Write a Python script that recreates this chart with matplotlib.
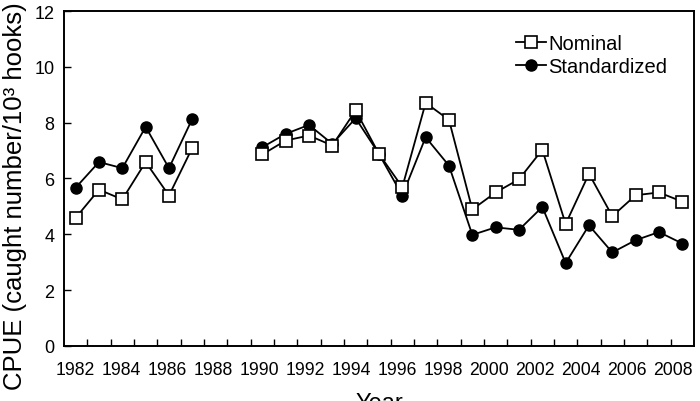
import numpy as np
import matplotlib
matplotlib.use("Agg")
import matplotlib.pyplot as plt
from matplotlib.ticker import MultipleLocator, FixedLocator, FixedFormatter

plt.rcParams["font.family"] = ["Liberation Sans", "DejaVu Sans"]

years = list(range(1982, 2009))
nan = np.nan
# 1988 and 1989 have no data (gap in the series)
nominal = [4.59, 5.60, 5.25, 6.59, 5.39, 7.10, nan, nan,
           6.86, 7.36, 7.54, 7.18, 8.44, 6.88, 5.69, 8.71, 8.10,
           4.89, 5.50, 5.97, 7.03, 4.37, 6.17, 4.65, 5.40, 5.50, 5.17]
standardized = [5.67, 6.59, 6.37, 7.85, 6.37, 8.14, nan, nan,
                7.12, 7.60, 7.92, 7.24, 8.16, 6.88, 5.39, 7.48, 6.46,
                3.98, 4.25, 4.16, 4.98, 2.97, 4.32, 3.35, 3.79, 4.08, 3.67]
label_years = list(range(1982, 2009, 2))

fig = plt.figure(figsize=(7.0, 4.02), dpi=100)
ax = fig.add_axes([0.0914, 0.137, 0.9, 0.833])

ax.plot(years, nominal, color="black", lw=1.3, marker="s", ms=8,
        mfc="white", mec="black", mew=1.2, label="Nominal", zorder=3)
ax.plot(years, standardized, color="black", lw=1.3, marker="o", ms=8,
        mfc="black", mec="black", label="Standardized", zorder=2)

ax.set_xlim(1981.5, 2008.5)
ax.set_ylim(0, 12)
# year labels in the original sit slightly left of the category centres
label_pos = [1982 + (y - 1982) * 0.985 for y in label_years]
ax.xaxis.set_major_locator(FixedLocator(label_pos))
ax.xaxis.set_major_formatter(FixedFormatter([str(y) for y in label_years]))
ax.xaxis.set_minor_locator(FixedLocator(np.arange(1982.5, 2008, 1.0)))
ax.yaxis.set_major_locator(MultipleLocator(2))
ax.tick_params(axis="x", which="major", length=0, labelsize=12.7, pad=11)
ax.tick_params(axis="x", which="minor", direction="in", length=5, width=1)
ax.tick_params(axis="y", direction="in", length=5, width=1, labelsize=13, pad=7)
for s in ax.spines.values():
    s.set_linewidth(1.4)

ax.set_xlabel("Year", fontsize=17, labelpad=10)
ax.set_ylabel("CPUE (caught number/10³ hooks)", fontsize=18.5)
ax.yaxis.set_label_coords(-0.058, 0.45)

ax.legend(loc="upper right", bbox_to_anchor=(0.97, 0.955), frameon=False,
          fontsize=14.5, handlelength=1.5, handletextpad=0.1,
          labelspacing=0.2, borderaxespad=0)

fig.savefig("out.png", dpi=100)
